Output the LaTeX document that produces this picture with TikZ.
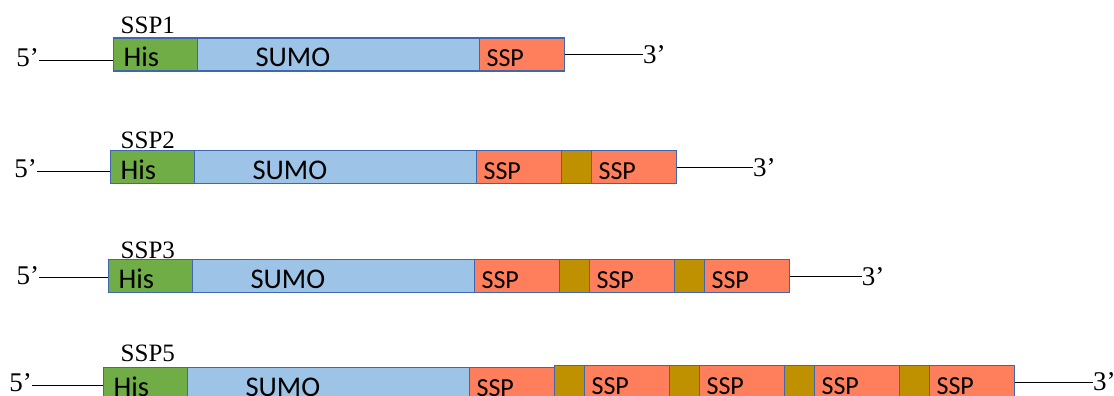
\documentclass[tikz,border=0pt]{standalone}
\usepackage{fontspec}
\setmainfont{Liberation Serif}
\newfontfamily\boxfont{Carlito}

\definecolor{segline}{HTML}{3F67AE}
\definecolor{hisgreen}{HTML}{70AD47}
\definecolor{sumoblue}{HTML}{9DC3E6}
\definecolor{sspred}{HTML}{FF7F5C}
\definecolor{linkgold}{HTML}{BF9000}

\tikzset{
	seg/.style={draw=segline, line width=1.2pt, anchor=west, minimum height=33pt, inner ysep=0pt, text height=24pt, text depth=0pt, align=left},
	his/.style={seg, fill=hisgreen, text width=64pt, inner xsep=10pt, font=\boxfont\fontsize{28.5}{30}\selectfont},
	sumo/.style={seg, fill=sumoblue, text width=166pt, inner xsep=58pt, font=\boxfont\fontsize{28.5}{30}\selectfont},
	ssp/.style={seg, fill=sspred, text width=70.5pt, inner xsep=7pt, font=\boxfont\fontsize{26}{28}\selectfont},
	link/.style={seg, fill=linkgold, minimum width=30.5pt, inner xsep=0pt},
	endl/.style={inner sep=0pt, font=\fontsize{27}{29}\selectfont},
	fivel/.style={endl, anchor=east, text height=13pt, text depth=0pt},
	threel/.style={endl, anchor=west},
	rowlabel/.style={inner sep=0pt, anchor=base west, font=\fontsize{25}{27}\selectfont},
	wire/.style={line width=0.8pt}
}

\begin{document}
\begin{tikzpicture}[x=1pt, y=-1pt]
	\clip (0,0) rectangle (1114,396);

	\node (Name1) [rowlabel] at (120.5, 34) {SSP1};
	\node (His1) [his] at (113, 54.5) {His};
	\node (Sumo1) [sumo] at (197, 54.5) {SUMO};
	\node (Ssp1a) [ssp] at (479, 54.5) {SSP};
	\node (Five1) [fivel] at (39, 60) {5’};
	\node (Three1) [threel] at (643, 54.5) {3’};
	\draw [wire] (Five1) -- (Five1 -| His1.west);
	\draw [wire] (Ssp1a.east) -- (Three1);

	\node (Name2) [rowlabel] at (120.5, 148.3) {SSP2};
	\node (His2) [his] at (110, 167.2) {His};
	\node (Sumo2) [sumo] at (194, 167.2) {SUMO};
	\node (Ssp2a) [ssp] at (476, 167.2) {SSP};
	\node (Link2a) [link] at (560.5, 167.2) {};
	\node (Ssp2b) [ssp] at (591, 167.2) {SSP};
	\node (Five2) [fivel] at (37, 171) {5’};
	\node (Three2) [threel] at (753, 167.2) {3’};
	\draw [wire] (Five2) -- (Five2 -| His2.west);
	\draw [wire] (Ssp2b.east) -- (Three2);

	\node (Name3) [rowlabel] at (120.5, 258) {SSP3};
	\node (His3) [his] at (108, 276.2) {His};
	\node (Sumo3) [sumo] at (192, 276.2) {SUMO};
	\node (Ssp3a) [ssp] at (474, 276.2) {SSP};
	\node (Link3a) [link] at (558.5, 276.2) {};
	\node (Ssp3b) [ssp] at (589, 276.2) {SSP};
	\node (Link3b) [link] at (673.5, 276.2) {};
	\node (Ssp3c) [ssp] at (704, 276.2) {SSP};
	\node (Five3) [fivel] at (39.3, 277.7) {5’};
	\node (Three3) [threel] at (861.7, 276.2) {3’};
	\draw [wire] (Five3) -- (Five3 -| His3.west);
	\draw [wire] (Ssp3c.east) -- (Three3);

	\node (Name5) [rowlabel] at (120.5, 361.7) {SSP5};
	\node (His5) [his] at (103, 384) {His};
	\node (Sumo5) [sumo] at (187, 384) {SUMO};
	\node (Ssp5a) [ssp] at (469, 384) {SSP};
	\node (Link5a) [link] at (553.5, 382) {};
	\node (Ssp5b) [ssp] at (584, 382) {SSP};
	\node (Link5b) [link] at (668.5, 382) {};
	\node (Ssp5c) [ssp] at (699, 382) {SSP};
	\node (Link5c) [link] at (783.5, 382) {};
	\node (Ssp5d) [ssp] at (814, 382) {SSP};
	\node (Link5d) [link] at (898.5, 382) {};
	\node (Ssp5e) [ssp] at (929, 382) {SSP};
	\node (Five5) [fivel] at (32, 385) {5’};
	\node (Three5) [threel] at (1093, 382) {3’};
	\draw [wire] (Five5) -- (Five5 -| His5.west);
	\draw [wire] (Ssp5e.east) -- (Three5);
\end{tikzpicture}
\end{document}
